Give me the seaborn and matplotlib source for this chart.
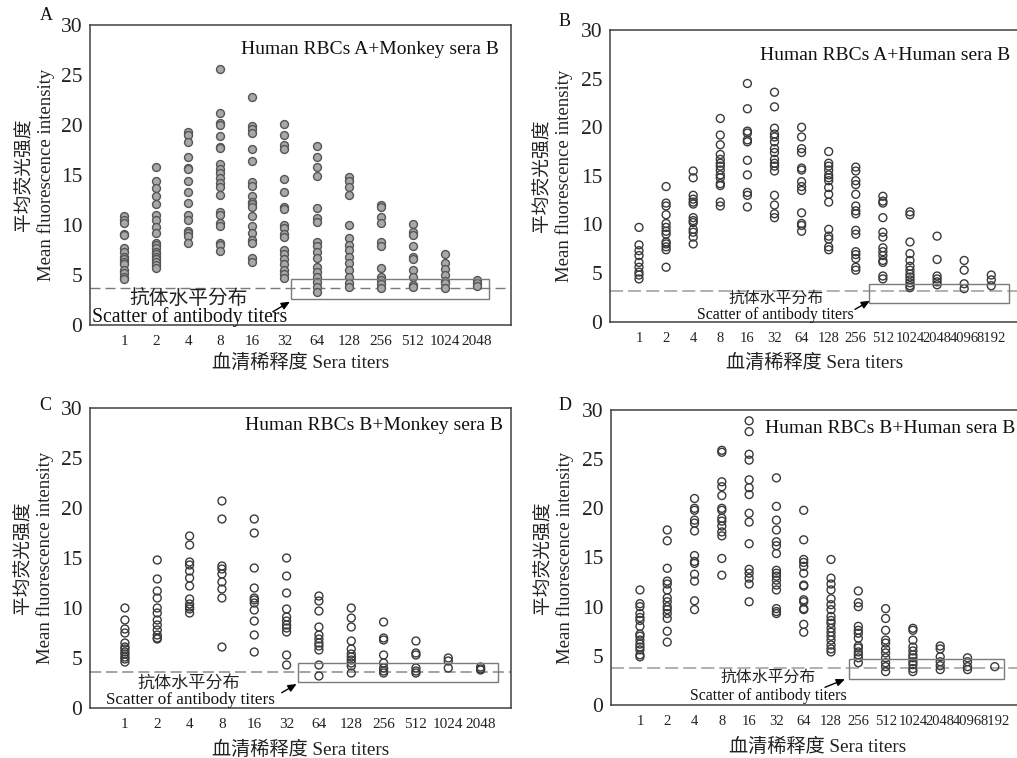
import matplotlib
matplotlib.use("Agg")
import matplotlib.pyplot as plt
from matplotlib.patches import Rectangle
import pandas as pd
import seaborn as sns

sns.set_style("white")
plt.rcParams["font.family"] = ["Liberation Serif", "Noto Sans CJK SC"]
plt.rcParams["axes.unicode_minus"] = False

# Sera dilution categories
titers_12 = ["1", "2", "4", "8", "16", "32", "64", "128", "256", "512", "1024", "2048"]
titers_14 = titers_12 + ["4096", "8192"]

# A: Human RBCs A + Monkey sera B (one list per dilution)
panel_a = [
    [10.9, 10.5, 10.2, 9.1, 9.0, 7.7, 7.3, 6.8, 6.6, 6.3, 6.1, 5.5, 5.2, 4.8, 4.6],
    [15.8, 14.4, 13.7, 12.9, 12.1, 11.0, 10.5, 9.8, 9.2, 8.2, 8.0, 7.7, 7.3, 7.1, 6.8, 6.6, 6.3, 6.0, 5.7],
    [19.3, 19.0, 18.3, 16.8, 15.7, 15.6, 14.4, 13.3, 12.2, 11.0, 10.5, 9.4, 9.2, 8.9, 8.2],
    [25.6, 21.2, 20.2, 20.0, 18.9, 17.8, 17.7, 16.1, 15.6, 15.2, 14.7, 14.2, 13.8, 13.0, 11.3, 11.0, 10.2, 9.9, 8.2, 8.0, 7.4],
    [22.8, 19.9, 19.6, 19.2, 17.6, 16.4, 14.3, 13.9, 12.9, 12.3, 12.1, 11.8, 10.9, 9.9, 9.2, 8.5, 8.2, 6.7, 6.3],
    [20.1, 19.0, 18.0, 17.6, 14.6, 13.3, 11.8, 11.6, 10.0, 9.7, 9.1, 8.8, 7.5, 7.1, 6.6, 6.1, 5.5, 5.1, 4.7],
    [17.9, 16.8, 15.8, 14.9, 11.7, 10.7, 10.3, 8.3, 7.9, 7.3, 6.7, 5.8, 5.3, 4.8, 4.3, 3.8, 3.3],
    [14.8, 14.4, 13.8, 13.0, 10.0, 8.7, 8.0, 7.5, 6.8, 6.2, 5.5, 4.8, 4.2, 3.8],
    [12.0, 11.8, 10.8, 10.2, 8.3, 7.9, 5.7, 4.8, 4.5, 4.1, 3.7],
    [10.1, 9.3, 9.0, 7.9, 6.8, 6.6, 5.5, 4.8, 4.0, 3.8],
    [7.1, 6.2, 5.6, 5.0, 4.4, 4.2, 3.7],
    [4.5, 4.2, 3.9],
]

# B: Human RBCs A + Human sera B
panel_b = [
    [9.7, 7.9, 7.3, 6.8, 6.1, 5.6, 5.1, 4.8, 4.4],
    [13.9, 12.2, 11.9, 11.0, 10.1, 9.7, 9.3, 9.0, 8.2, 8.0, 7.7, 7.4, 5.6],
    [15.5, 14.8, 13.0, 12.6, 12.3, 12.1, 10.7, 10.4, 10.2, 9.5, 9.2, 8.7, 8.0],
    [20.9, 19.2, 18.2, 17.2, 16.7, 16.3, 16.0, 15.6, 15.1, 14.8, 14.2, 14.0, 12.3, 11.9],
    [24.5, 21.9, 19.6, 19.4, 18.7, 18.5, 16.6, 15.1, 13.3, 13.0, 11.8],
    [23.6, 22.1, 19.9, 19.3, 19.0, 18.5, 17.8, 17.4, 16.7, 16.3, 16.0, 15.5, 13.0, 12.0, 11.1, 10.7],
    [20.0, 19.0, 17.8, 17.4, 15.8, 15.6, 14.4, 13.9, 13.5, 11.2, 10.1, 9.9, 9.3],
    [17.5, 16.3, 16.0, 15.6, 15.1, 14.8, 14.5, 13.8, 13.1, 12.3, 9.5, 8.8, 8.5, 7.7, 7.4],
    [15.9, 15.5, 14.5, 14.1, 13.1, 11.9, 11.4, 11.1, 9.4, 9.0, 7.2, 6.9, 6.5, 5.6, 5.3],
    [12.9, 12.4, 12.2, 10.7, 9.2, 8.7, 7.6, 7.2, 6.8, 6.3, 6.1, 4.7, 4.4],
    [11.3, 11.0, 8.2, 7.0, 6.3, 5.7, 5.3, 4.9, 4.6, 4.3, 4.0, 3.7, 3.5],
    [8.8, 6.4, 4.7, 4.4, 4.1, 3.8],
    [6.3, 5.3, 3.9, 3.4],
    [4.8, 4.3, 3.7],
]

# C: Human RBCs B + Monkey sera B
panel_c = [
    [10.0, 8.8, 7.9, 7.5, 6.5, 6.1, 5.9, 5.6, 5.4, 5.1, 4.9, 4.6],
    [14.8, 12.9, 11.7, 11.0, 10.0, 9.5, 8.8, 8.3, 7.8, 7.3, 7.0, 6.9],
    [17.2, 16.3, 14.6, 14.3, 13.7, 13.0, 12.2, 10.9, 10.4, 10.1, 9.9, 9.5],
    [20.7, 18.9, 14.2, 13.9, 13.4, 12.6, 11.9, 11.0, 6.1],
    [18.9, 17.5, 14.0, 12.0, 11.0, 10.8, 10.5, 9.8, 8.7, 7.3, 5.6],
    [15.0, 13.2, 11.5, 9.9, 9.1, 8.7, 8.3, 8.0, 7.6, 5.3, 4.3],
    [11.2, 10.7, 9.7, 8.1, 7.3, 6.9, 6.5, 6.2, 5.8, 4.3, 3.2],
    [10.0, 9.0, 8.1, 6.7, 5.9, 5.4, 5.1, 4.8, 4.5, 4.2, 3.5],
    [8.6, 7.0, 6.8, 5.3, 4.5, 4.0, 3.7, 3.5],
    [6.7, 5.5, 5.3, 4.0, 3.7, 3.5],
    [5.0, 4.7, 4.0],
    [4.1, 3.9, 3.8],
]

# D: Human RBCs B + Human sera B
panel_d = [
    [11.7, 10.3, 10.0, 9.3, 8.9, 8.6, 8.0, 7.2, 7.0, 6.6, 6.2, 5.9, 5.6, 5.1, 4.9],
    [17.8, 16.7, 13.9, 12.6, 12.3, 11.7, 10.9, 10.5, 10.0, 9.7, 9.3, 8.8, 7.5, 6.4],
    [21.0, 20.0, 19.8, 18.8, 18.5, 17.7, 15.2, 14.6, 14.4, 13.3, 12.6, 10.6, 9.7],
    [25.9, 25.7, 22.7, 22.2, 21.3, 20.0, 19.8, 19.0, 18.7, 18.2, 17.6, 17.2, 14.9, 13.2],
    [28.9, 27.8, 25.5, 24.9, 22.9, 22.1, 21.4, 19.5, 18.6, 16.4, 13.8, 13.4, 12.9, 12.3, 10.5],
    [23.1, 20.2, 18.8, 17.8, 16.6, 16.2, 15.4, 13.7, 13.4, 13.1, 12.7, 12.2, 11.7, 9.8, 9.5, 9.3],
    [19.8, 16.8, 14.8, 14.5, 14.1, 13.4, 12.2, 12.1, 10.7, 10.5, 9.8, 9.7, 8.2, 7.4],
    [14.8, 12.9, 12.3, 11.7, 10.8, 10.2, 9.7, 9.0, 8.6, 8.3, 7.8, 7.4, 7.0, 6.6, 6.1, 5.7, 5.4],
    [11.6, 10.4, 10.0, 8.0, 7.6, 7.3, 6.8, 6.0, 5.8, 5.4, 5.1, 4.8, 4.3],
    [9.8, 8.8, 7.6, 6.6, 6.3, 5.7, 5.3, 4.8, 4.3, 3.9, 3.4],
    [7.8, 7.6, 6.6, 5.9, 5.5, 5.1, 4.8, 4.4, 4.1, 3.7, 3.4],
    [6.0, 5.7, 4.9, 4.4, 4.0, 3.6],
    [4.8, 4.4, 3.9, 3.6],
    [3.9],
]

titles = ["Human RBCs A+Monkey sera B", "Human RBCs A+Human sera B",
          "Human RBCs B+Monkey sera B", "Human RBCs B+Human sera B"]
letters = ["A", "B", "C", "D"]
cutoffs = [3.7, 3.2, 3.6, 3.8]

W, H = 1017, 758
fig = plt.figure(figsize=(W / 100, H / 100), dpi=100)


def add_axes_px(left, top, right, bottom):
    return fig.add_axes([left / W, 1 - bottom / H, (right - left) / W, (bottom - top) / H])


panels = [
    dict(values=panel_a, labels=titers_12, rect=(90, 25, 511, 325), xlim=(-1.06, 12.06),
         face="#a8a8a8", edge="#555555", open=False,
         title_xy=(3.65, 27.5), box=(5.19, 2.6, 11.37, 4.6),
         cn_xy=(2.02, 2.7), en_xy=(2.05, 0.8), arrow=((4.64, 1.33), (5.17, 2.33)),
         note_size=14.2, dash_color="#7a7a7a", dash_lw=1.0, dash=(7.2, 3.6),
         xtick_size=11, ylab_x=-0.083, xlab_y=-0.095, letter_xy=(46, 16)),
    dict(values=panel_b, labels=titers_14, rect=(610, 30, 1020, 321.7), xlim=(-1.07, 14.06),
         face="none", edge="#3a3a3a", open=True,
         title_xy=(4.46, 27.4), box=(8.49, 1.9, 13.65, 3.85),
         cn_xy=(5.05, 2.4), en_xy=(5.05, 0.69), arrow=((7.97, 1.27), (8.52, 2.15)),
         note_size=11.4, dash_color="#b0b0b0", dash_lw=1.4, dash=(9.4, 3.6),
         xtick_size=10.5, ylab_x=-0.09, xlab_y=-0.11, letter_xy=(565, 22)),
    dict(values=panel_c, labels=titers_12, rect=(90, 408, 511, 708), xlim=(-1.08, 11.94),
         face="none", edge="#3a3a3a", open=True,
         title_xy=(3.72, 28.2), box=(5.34, 2.57, 11.55, 4.47),
         cn_xy=(1.99, 2.53), en_xy=(2.03, 0.8), arrow=((4.85, 1.53), (5.31, 2.4)),
         note_size=12.3, dash_color="#8a8a8a", dash_lw=1.1, dash=(8.0, 3.6),
         xtick_size=11, ylab_x=-0.085, xlab_y=-0.11, letter_xy=(45, 406)),
    dict(values=panel_d, labels=titers_14, rect=(611, 410, 1024, 705), xlim=(-1.06, 14.07),
         face="none", edge="#3a3a3a", open=True,
         title_xy=(4.6, 28.1), box=(7.66, 2.63, 13.35, 4.66),
         cn_xy=(4.7, 2.82), en_xy=(4.71, 0.92), arrow=((6.78, 1.8), (7.51, 2.62)),
         note_size=11.4, dash_color="#b0b0b0", dash_lw=1.4, dash=(9.4, 3.6),
         xtick_size=10.5, ylab_x=-0.09, xlab_y=-0.112, letter_xy=(565, 405)),
]

for p, title, letter, cutoff in zip(panels, titles, letters, cutoffs):
    ax = add_axes_px(*p["rect"])
    rows = [(lab, v) for lab, vals in zip(p["labels"], p["values"]) for v in vals]
    df = pd.DataFrame(rows, columns=["titer", "mfi"])

    sns.stripplot(data=df, x="titer", y="mfi", order=p["labels"], jitter=False,
                  size=5.7, color="white" if p["open"] else p["face"],
                  edgecolor=p["edge"], linewidth=1.0, ax=ax, zorder=3)
    if p["open"]:
        for coll in ax.collections:
            coll.set_facecolor("none")

    # cut-off line for the antibody level
    ax.axhline(cutoff, color=p["dash_color"], lw=p["dash_lw"],
               ls=(0, (p["dash"][0] / p["dash_lw"], p["dash"][1] / p["dash_lw"])), zorder=2)

    x0, y0, x1, y1 = p["box"]
    ax.add_patch(Rectangle((x0, y0), x1 - x0, y1 - y0, fill=False,
                           ec="#7a7a7a", lw=1.0, zorder=4, clip_on=False))

    ax.text(*p["cn_xy"], "抗体水平分布", fontsize=p["note_size"], ha="center", va="center",
            family=["Noto Sans CJK SC"], color="#222222")
    ax.text(*p["en_xy"], "Scatter of antibody titers", fontsize=p["note_size"],
            ha="center", va="center", color="#111111", zorder=5)
    (tx, ty), (hx, hy) = p["arrow"]
    ax.annotate("", xy=(hx, hy), xytext=(tx, ty),
                arrowprops=dict(arrowstyle="-|>,head_length=0.5,head_width=0.22",
                                color="black", lw=1.0, shrinkA=0, shrinkB=0))

    ax.text(*p["title_xy"], title, fontsize=14, ha="left", va="center", color="#111111",
            clip_on=False)

    ax.set_xlim(*p["xlim"])
    ax.set_ylim(0, 30)
    ax.set_yticks(range(0, 31, 5))
    ax.set_xlabel("血清稀释度 Sera titers", fontsize=13.8, color="#222222")
    ax.set_ylabel("平均荧光强度\nMean fluorescence intensity", fontsize=13.5,
                  color="#222222", linespacing=1.25)
    ax.xaxis.set_label_coords(0.5, p["xlab_y"])
    ax.yaxis.set_label_coords(p["ylab_x"], 0.5)

    ax.tick_params(axis="x", direction="out", length=4, width=1.0, pad=3.5,
                   labelsize=p["xtick_size"], colors="#222222")
    ax.tick_params(axis="y", direction="in", length=3, width=1.0, pad=5.5,
                   labelsize=15.5, colors="#222222")
    for sp in ax.spines.values():
        sp.set_visible(True)
        sp.set_color("#404040")
        sp.set_linewidth(1.1)
    ax.grid(False)

    fig.text(p["letter_xy"][0] / W, 1 - p["letter_xy"][1] / H, letter, fontsize=13,
             ha="center", va="center", color="#111111")

fig.savefig("out.png", dpi=100, facecolor="white")
